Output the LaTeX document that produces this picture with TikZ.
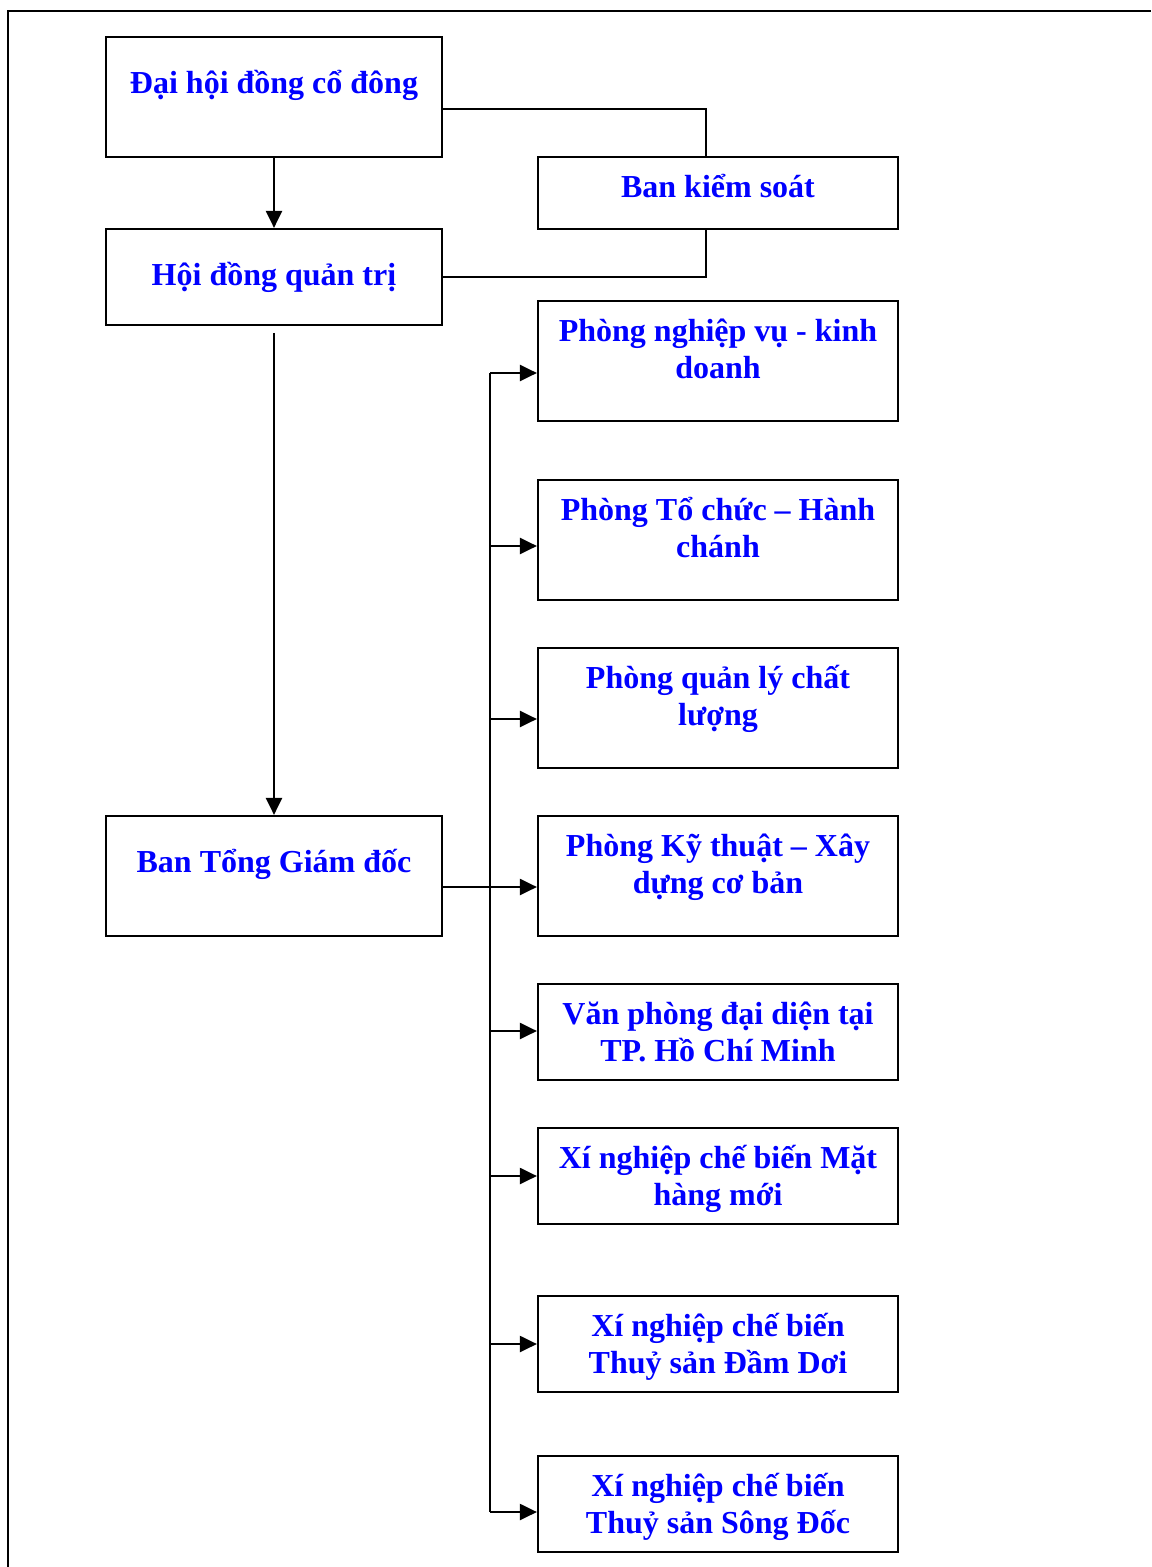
\documentclass[tikz,border=0pt]{standalone}
\usepackage{fontspec}
\setmainfont{Liberation Serif}
\usetikzlibrary{arrows.meta}
\begin{document}
\begin{tikzpicture}[x=0.5pt,y=-0.5pt,
    box/.style={draw, line width=1.1pt, inner sep=0pt, minimum width=168pt},
    rbox/.style={draw, line width=1.1pt, inner sep=0pt, minimum width=180pt},
    txt/.style={text=blue, align=center, inner sep=0pt, anchor=base, font=\bfseries\fontsize{16}{18.5}\selectfont},
    conn/.style={line width=1.1pt},
    arr/.style={line width=1.1pt, -{Triangle[length=8.5pt,width=8pt]}}]
    \useasboundingbox (0,0) rectangle (1151,1567);
    \draw[line width=1.1pt] (8,1567) -- (8,11) -- (1151,11);
    % left column
    \node[box, minimum height=60pt] (dhdcd) at (274,97) {};
    \node[box, minimum height=48pt] (hdqt) at (274,277) {};
    \node[box, minimum height=60pt] (btgd) at (274,876) {};
    \node[txt] (dhdcd-t) at ([yshift=-29pt]dhdcd.north) {Đại hội đồng cổ đông};
    \node[txt] (hdqt-t) at ([yshift=-29pt]hdqt.north) {Hội đồng quản trị};
    \node[txt] (btgd-t) at ([yshift=-29pt]btgd.north) {Ban Tổng Giám đốc};
    % right column
    \node[rbox, minimum height=36pt] (bks) at (718,193) {};
    \node[rbox, minimum height=60pt] (p1) at (718,361) {};
    \node[rbox, minimum height=60pt] (p2) at (718,540) {};
    \node[rbox, minimum height=60pt] (p3) at (718,708) {};
    \node[rbox, minimum height=60pt] (p4) at (718,876) {};
    \node[rbox, minimum height=48pt] (p5) at (718,1032) {};
    \node[rbox, minimum height=48pt] (p6) at (718,1176) {};
    \node[rbox, minimum height=48pt] (p7) at (718,1344) {};
    \node[rbox, minimum height=48pt] (p8) at (718,1504) {};
    \node[txt] (bks-t) at ([yshift=-21pt]bks.north) {Ban kiểm soát};
    \node[txt] (p1-t) at ([yshift=-39.5pt]p1.north) {Phòng nghiệp vụ - kinh\\doanh};
    \node[txt] (p2-t) at ([yshift=-39.5pt]p2.north) {Phòng Tổ chức – Hành\\chánh};
    \node[txt] (p3-t) at ([yshift=-39.5pt]p3.north) {Phòng quản lý chất\\lượng};
    \node[txt] (p4-t) at ([yshift=-39.5pt]p4.north) {Phòng Kỹ thuật – Xây\\dựng cơ bản};
    \node[txt] (p5-t) at ([yshift=-39.5pt]p5.north) {Văn phòng đại diện tại\\TP. Hồ Chí Minh};
    \node[txt] (p6-t) at ([yshift=-39.5pt]p6.north) {Xí nghiệp chế biến Mặt\\hàng mới};
    \node[txt] (p7-t) at ([yshift=-39.5pt]p7.north) {Xí nghiệp chế biến\\Thuỷ sản Đầm Dơi};
    \node[txt] (p8-t) at ([yshift=-39.5pt]p8.north) {Xí nghiệp chế biến\\Thuỷ sản Sông Đốc};
    % connectors
    \coordinate (k1) at (706,109);
    \coordinate (k2) at (706,277);
    \coordinate (h1) at (274,333);
    \draw[conn] (dhdcd.east |- k1) -- (k1) -- (k1 |- bks.north);
    \draw[conn] (hdqt.east) -- (k2) -- (k2 |- bks.south);
    \draw[arr] (dhdcd.south) -- (hdqt.north);
    \draw[arr] (h1) -- (btgd.north);
    \coordinate (j1) at (490,373);
    \coordinate (j2) at (490,546);
    \coordinate (j3) at (490,719);
    \coordinate (j4) at (490,887);
    \coordinate (j5) at (490,1031);
    \coordinate (j6) at (490,1176);
    \coordinate (j7) at (490,1344);
    \coordinate (j8) at (490,1512);
    \draw[conn] (j1) -- (j8);
    \draw[arr] (btgd.east |- j4) -- (j4 -| p4.west);
    \foreach \i in {1,2,3,5,6,7,8}
        \draw[arr] (j\i) -- (j\i -| p\i.west);
\end{tikzpicture}
\end{document}
